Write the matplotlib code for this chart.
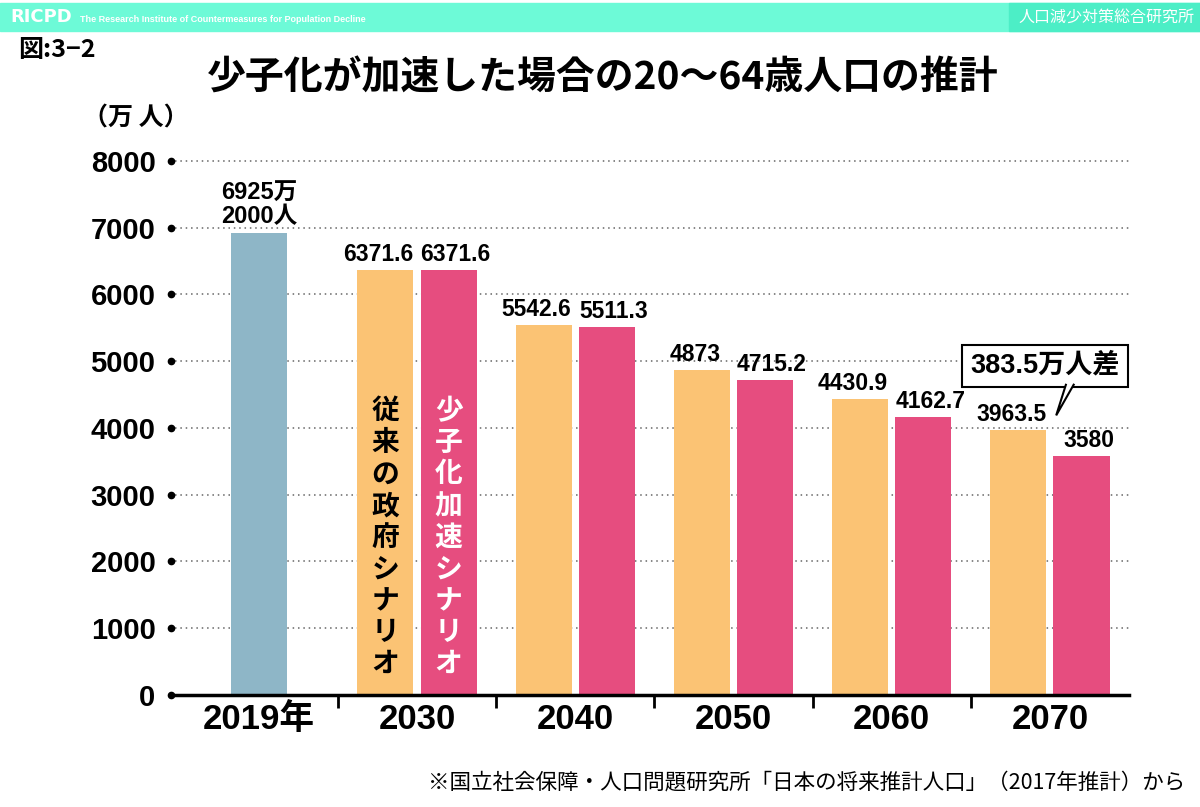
import numpy as np
import matplotlib.pyplot as plt
from matplotlib.patches import Rectangle, Polygon

plt.rcParams['font.family'] = ['Noto Sans CJK JP', 'DejaVu Sans']

# data (万人)
years = ["2019年", "2030", "2040", "2050", "2060", "2070"]
actual_2019 = 6925.2
baseline = [6371.6, 5542.6, 4873, 4430.9, 3963.5]      # 従来の政府シナリオ
low_birth = [6371.6, 5511.3, 4715.2, 4162.7, 3580]     # 少子化加速シナリオ
yticks = [0, 1000, 2000, 3000, 4000, 5000, 6000, 7000, 8000]

c_blue = "#8EB6C7"
c_orange = "#FBC374"
c_pink = "#E64D7F"
num_font = ['Liberation Sans', 'Noto Sans CJK JP']

fig = plt.figure(figsize=(12, 8.07), dpi=100)

# header band
fig.patches.append(Rectangle((0, 1 - 31 / 807), 1, 28 / 807, transform=fig.transFigure,
                             color="#6DFAD7", zorder=0))
fig.patches.append(Rectangle((1009 / 1200, 1 - 31 / 807), 1 - 1009 / 1200, 28 / 807,
                             transform=fig.transFigure, color="#4CEEC6", zorder=0))
fig.text(0.009, 1 - 17 / 807, "RICPD", color="white", fontsize=13, fontweight="bold",
         family="DejaVu Sans", va="center")
fig.text(0.067, 1 - 20 / 807, "The Research Institute of Countermeasures for Population Decline",
         color="white", fontsize=6.5, fontweight="bold", family="Liberation Sans", va="center")
fig.text(0.995, 1 - 17 / 807, "人口減少対策総合研究所", color="white", fontsize=11.5,
         ha="right", va="center")

fig.text(0.015, 1 - 50 / 807, "図:3−2", fontsize=18, fontweight="bold", va="center")
fig.text(0.502, 1 - 78 / 807, "少子化が加速した場合の20～64歳人口の推計", fontsize=28,
         fontweight="bold", ha="center", va="center")
fig.text(0.069, 1 - 119 / 807, "（万 人）", fontsize=18, fontweight="bold", va="center")
fig.text(0.988, 1 - 782 / 807, "※国立社会保障・人口問題研究所「日本の将来推計人口」（2017年推計）から",
         fontsize=15.5, ha="right", va="center")

ax = fig.add_axes([0.1458, 0.1388, 0.795, 0.670])

x = np.arange(len(years))
w = 0.354
off = 0.2

ax.bar(x[0], actual_2019, w, color=c_blue, zorder=2)
ax.bar(x[1:] - off, baseline, w, color=c_orange, zorder=2)
ax.bar(x[1:] + off, low_birth, w, color=c_pink, zorder=2)

# value labels
ax.annotate("6925万\n2000人", (x[0], actual_2019), xytext=(0, 3), textcoords="offset points",
            ha="center", va="bottom", fontsize=17, fontweight="bold", family=num_font,
            linespacing=1.05)
for xi, v in zip(x[1:], baseline):
    ax.annotate(f"{v:g}", (xi - off, v), xytext=(-5, 3), textcoords="offset points",
                ha="center", va="bottom", fontsize=16.5, fontweight="bold", family=num_font)
for xi, v in zip(x[1:], low_birth):
    ax.annotate(f"{v:g}", (xi + off, v), xytext=(5, 3), textcoords="offset points",
                ha="center", va="bottom", fontsize=16.5, fontweight="bold", family=num_font)

# vertical scenario names inside the 2030 bars
for name, xc, col in [("従来の政府シナリオ", x[1] - off, "black"),
                      ("少子化加速シナリオ", x[1] + off, "white")]:
    for i, ch in enumerate(name):
        ax.annotate(ch, (xc, 4250), xytext=(0, -i * 22.75), textcoords="offset points",
                    ha="center", va="center", fontsize=20, fontweight="bold", color=col,
                    zorder=3)

ax.set_xlim(-0.53, 5.5)
ax.set_ylim(0, 8100)

# difference callout (box + speech tail)
diff = baseline[-1] - low_birth[-1]
call = ax.text(x[-1] - 0.03, baseline[-1] + 970, f"{diff:.1f}万人差", ha="center",
               va="center", fontsize=19.5, fontweight="bold", family=num_font,
               bbox=dict(boxstyle="square,pad=0.3", fc="white", ec="black", lw=1.5),
               zorder=5)
fig.canvas.draw()
box = call.get_bbox_patch().get_window_extent()
tip = ax.transData.transform((x[-1] + 0.04, baseline[-1] + 225))
tail = np.array([[tip[0] + 10, box.y0 + 3], tip, [tip[0] + 18, box.y0 + 3]])
ax.add_patch(Polygon(ax.transData.inverted().transform(tail), closed=False, fc="white",
                     ec="black", lw=1.5, zorder=6, clip_on=False))

# y axis: dots instead of ticks, dotted grid
ax.set_yticks(yticks)
ax.set_yticklabels([str(t) for t in yticks], fontsize=21, fontweight="bold",
                   family="Liberation Sans")
ax.tick_params(axis="y", length=0, pad=14)
ax.plot(np.full(len(yticks), -0.004), yticks, "o", color="black", markersize=4.5,
        transform=ax.get_yaxis_transform(), clip_on=False, zorder=4)
ax.yaxis.grid(True, linestyle=(0, (1, 2.5)), color="#666666", lw=1.1, zorder=1)
ax.set_axisbelow(True)

# x axis
ax.set_xticks(x)
ax.set_xticklabels(years, fontsize=25, fontweight="bold", family=num_font)
ax.tick_params(axis="x", length=0, pad=6)
ax.set_xticks(x[:-1] + 0.5, minor=True)
ax.tick_params(axis="x", which="minor", length=9, width=2, direction="out")

for s in ["left", "right", "top"]:
    ax.spines[s].set_visible(False)
ax.spines["bottom"].set_linewidth(2.5)

fig.savefig("out.png", dpi=100)
